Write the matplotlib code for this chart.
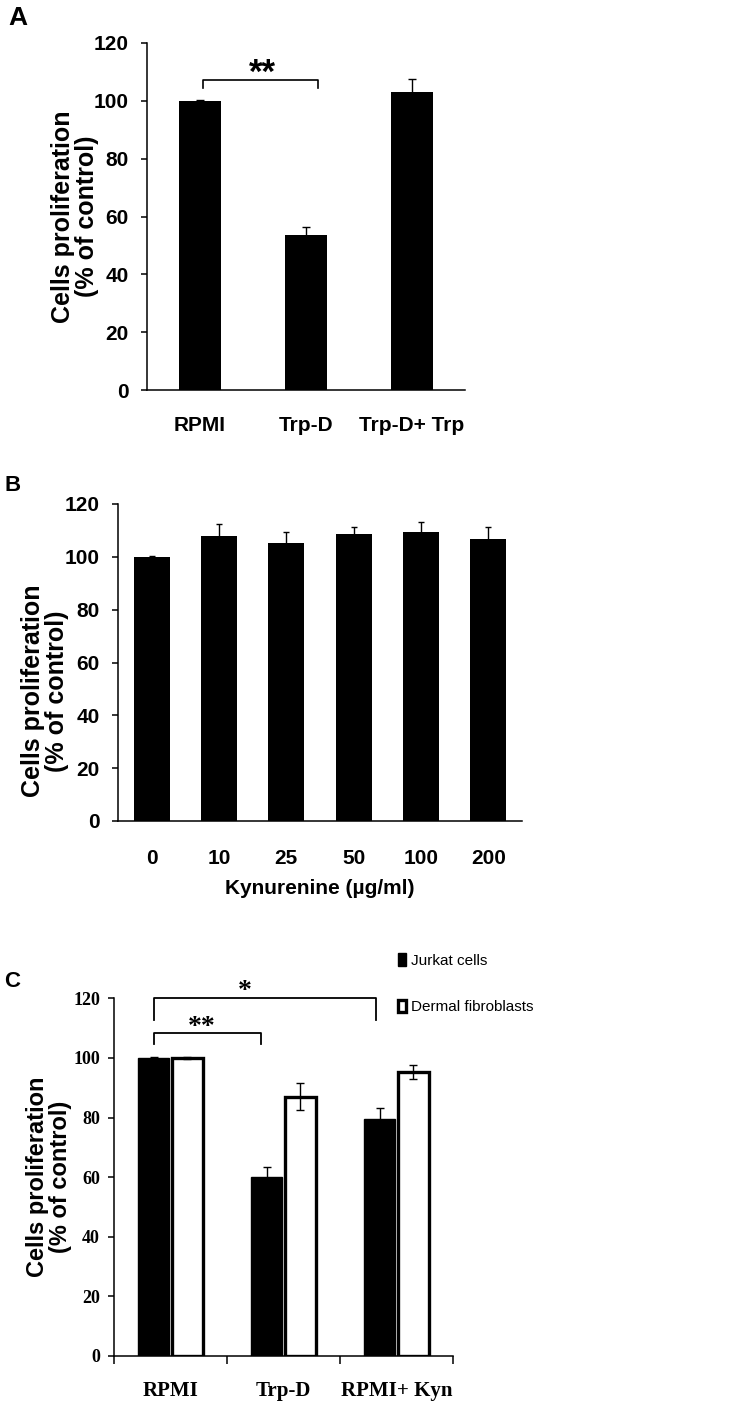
import matplotlib
matplotlib.use('Agg')
import matplotlib.pyplot as plt
import numpy as np

# panel A
a_groups = ['RPMI', 'Trp-D', 'Trp-D+ Trp']
a_values = [100, 53.6, 102.9]
a_err = [0.3, 2.7, 4.5]

# panel B
b_doses = ['0', '10', '25', '50', '100', '200']
b_values = [100, 108.0, 105.1, 108.5, 109.5, 106.6]
b_err = [0.3, 4.3, 4.2, 2.7, 3.7, 4.6]

# panel C
c_groups = ['RPMI', 'Trp-D', 'RPMI+ Kyn']
c_jurkat = [100, 60.2, 79.5]
c_jurkat_err = [0.3, 3.3, 3.8]
c_fibro = [100, 87.0, 95.2]
c_fibro_err = [0.2, 4.6, 2.4]

SANS = ['Liberation Sans', 'DejaVu Sans']
SERIF = ['Liberation Serif', 'DejaVu Serif']

plt.rcParams['font.family'] = SANS
plt.rcParams['font.weight'] = 'bold'

fig = plt.figure(figsize=(7.55, 14.07), dpi=100)


def style_axis(ax):
    for s in ['top', 'right']:
        ax.spines[s].set_visible(False)
    for s in ['left', 'bottom']:
        ax.spines[s].set_linewidth(1.1)
    ax.set_ylim(0, 120)
    ax.set_yticks(range(0, 121, 20))
    ax.tick_params(axis='y', direction='out', length=4, width=1.1)


ylab = 'Cells proliferation\n(% of control)'

# ---- A ----
axA = fig.add_axes([147 / 755, 1 - 390 / 1407, 318 / 755, 347 / 1407])
style_axis(axA)
xa = np.arange(len(a_groups))
axA.bar(xa, a_values, width=0.4, color='black', yerr=a_err,
        error_kw=dict(ecolor='black', elinewidth=1, capsize=3, capthick=1))
axA.set_xlim(-0.5, 2.5)
axA.set_xticks(xa)
axA.set_xticklabels(a_groups, fontsize=15, fontweight='bold')
axA.tick_params(axis='x', length=0, pad=19)
axA.tick_params(axis='y', labelsize=15, pad=9)
axA.set_ylabel(ylab, fontsize=18, fontweight='bold', linespacing=1.0)
axA.yaxis.set_label_coords(-0.152, 0.5)
axA.plot([0.03, 0.03, 1.11, 1.11], [104.4, 107.2, 107.2, 104.4], color='black', lw=1.2)
axA.text(0.585, 115.2, '**', ha='center', va='top', fontsize=25, fontweight='bold')

# ---- B ----
axB = fig.add_axes([118 / 755, 1 - 821 / 1407, 404 / 755, 317 / 1407])
style_axis(axB)
xb = np.arange(len(b_doses))
axB.bar(xb, b_values, width=0.53, color='black', yerr=b_err,
        error_kw=dict(ecolor='black', elinewidth=1, capsize=2.5, capthick=1))
axB.set_xlim(-0.5, 5.5)
axB.set_xticks(xb)
axB.set_xticklabels(b_doses, fontsize=15, fontweight='bold')
axB.tick_params(axis='x', length=0, pad=20)
axB.tick_params(axis='y', labelsize=15, pad=9)
axB.set_xlabel('Kynurenine (µg/ml)', fontsize=15, fontweight='bold', labelpad=8)
axB.set_ylabel(ylab, fontsize=18, fontweight='bold', linespacing=1.0)
axB.yaxis.set_label_coords(-0.122, 0.41)

# ---- C ----
axC = fig.add_axes([114 / 755, 1 - 1356 / 1407, 339 / 755, 357.7 / 1407])
style_axis(axC)
xc = np.arange(len(c_groups))
w = 0.28
hj = axC.bar(xc - 0.15, c_jurkat, width=w, color='black', edgecolor='black',
             yerr=c_jurkat_err,
             error_kw=dict(ecolor='black', elinewidth=1, capsize=3, capthick=1))
hf = axC.bar(xc + 0.15, c_fibro, width=w, color='white', edgecolor='black',
             linewidth=2.4, yerr=c_fibro_err,
             error_kw=dict(ecolor='black', elinewidth=1, capsize=3, capthick=1))
axC.set_xlim(-0.5, 2.5)
axC.set_xticks(xc)
axC.set_xticklabels(c_groups, fontsize=15, fontweight='bold', family=SERIF)
axC.set_xticks([-0.5, 0.5, 1.5, 2.5], minor=True)
axC.tick_params(axis='x', which='major', length=0, pad=18)
axC.tick_params(axis='x', which='minor', length=6, width=1.1, direction='out')
axC.tick_params(axis='y', labelsize=13, pad=6)
for t in axC.get_yticklabels():
    t.set_family(SERIF)
    t.set_fontweight('bold')
axC.set_ylabel(ylab, fontsize=17, fontweight='bold', linespacing=1.0)
axC.yaxis.set_label_coords(-0.125, 0.5)
axC.plot([-0.15, -0.15, 1.82, 1.82], [112.7, 120, 120, 112.7], color='black',
         lw=1.3, clip_on=False, solid_joinstyle='round')
axC.plot([-0.15, -0.15, 0.80, 0.80], [104.7, 108.5, 108.5, 104.7], color='black',
         lw=1.3, clip_on=False, solid_joinstyle='round')
axC.text(0.66, 126.5, '*', ha='center', va='top', fontsize=20, fontweight='bold',
         family=SERIF)
axC.text(0.275, 114.5, '**', ha='center', va='top', fontsize=20, fontweight='bold',
         family=SERIF)

leg = axC.legend([hj, hf], ['Jurkat cells', 'Dermal fibroblasts'], loc='upper left',
                 bbox_to_anchor=(398 / 755, 1 - 953 / 1407),
                 bbox_transform=fig.transFigure, frameon=False,
                 handlelength=0.55, handleheight=0.9, handletextpad=0.3,
                 labelspacing=2.1, borderpad=0, borderaxespad=0,
                 prop=dict(weight='normal', size=11))

# panel letters
fig.text(8 / 755, 1 - 6 / 1407, 'A', fontsize=19, fontweight='bold', va='top')
fig.text(5 / 755, 1 - 475 / 1407, 'B', fontsize=16, fontweight='bold', va='top')
fig.text(4 / 755, 1 - 971 / 1407, 'C', fontsize=16, fontweight='bold', va='top')

fig.savefig('out.png', dpi=100)
